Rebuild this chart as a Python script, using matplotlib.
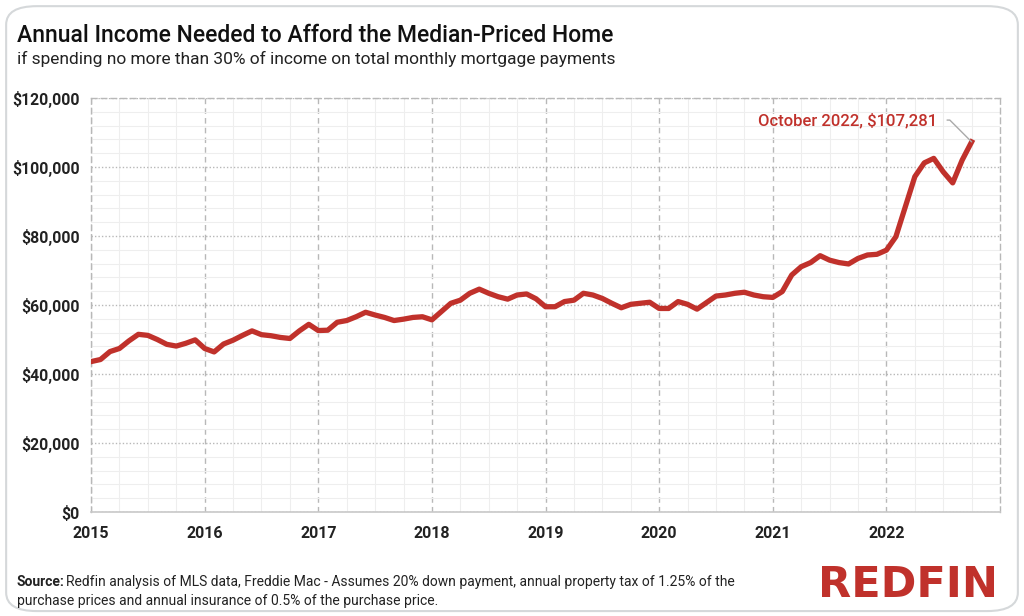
import numpy as np
import matplotlib.pyplot as plt
from matplotlib.patches import FancyBboxPatch
from matplotlib.ticker import MultipleLocator, FuncFormatter

# monthly values, Jan 2015 - Oct 2022 (thousands of dollars)
income_2015 = [43.6, 44.2, 46.5, 47.4, 49.6, 51.5, 51.2, 50.0, 48.6, 48.1, 48.9, 49.9]
income_2016 = [47.4, 46.4, 48.7, 49.8, 51.2, 52.5, 51.4, 51.1, 50.6, 50.3, 52.5, 54.4]
income_2017 = [52.6, 52.7, 55.0, 55.5, 56.6, 57.9, 57.1, 56.4, 55.5, 55.9, 56.4, 56.6]
income_2018 = [55.7, 58.1, 60.5, 61.4, 63.4, 64.6, 63.4, 62.4, 61.7, 62.9, 63.2, 61.8]
income_2019 = [59.5, 59.5, 61.0, 61.4, 63.4, 62.9, 61.9, 60.5, 59.2, 60.2, 60.5, 60.8]
income_2020 = [59.0, 59.0, 61.0, 60.2, 58.8, 60.7, 62.6, 62.9, 63.4, 63.7, 62.9, 62.4]
income_2021 = [62.2, 63.9, 68.7, 71.1, 72.3, 74.3, 73.0, 72.3, 71.9, 73.5, 74.5, 74.7]
income_2022 = [75.9, 79.8, 88.5, 97.2, 101.2, 102.5, 98.6, 95.4, 102.0, 107.281]

years = [2015, 2016, 2017, 2018, 2019, 2020, 2021, 2022]
label_text = "October 2022, $107,281"

income = np.array(income_2015 + income_2016 + income_2017 + income_2018 +
                  income_2019 + income_2020 + income_2021 + income_2022) * 1000
t = 2015 + np.arange(len(income)) / 12.0

red = '#c0312b'
plt.rcParams['font.family'] = ['Roboto', 'DejaVu Sans']

fig = plt.figure(figsize=(10.24, 6.16), dpi=100)
fig.patches.append(FancyBboxPatch((0.006, 0.008), 0.988, 0.982,
                                  boxstyle='round,pad=0,rounding_size=0.03',
                                  transform=fig.transFigure, fc='white',
                                  ec='#d5d8da', lw=1.5, zorder=-1))

ax = fig.add_axes([0.0889, 0.1688, 0.8877, 0.6721])
ax.plot(t, income, color=red, lw=3.8, solid_joinstyle='round', zorder=3)

ax.set_xlim(2015, 2023)
ax.set_ylim(0, 120000)
ax.xaxis.set_minor_locator(MultipleLocator(0.25))
ax.yaxis.set_major_locator(MultipleLocator(20000))
ax.yaxis.set_minor_locator(MultipleLocator(4000))
ax.set_xticks(years)
ax.set_xticklabels([str(y) for y in years])
ax.yaxis.set_major_formatter(FuncFormatter(lambda v, p: '${:,.0f}'.format(v)))

ax.grid(which='minor', color='#eeeeee', lw=0.8, ls='-')
ax.grid(which='major', axis='x', color='#b8b8b8', lw=1.0, ls=(0, (4, 3)))
ax.grid(which='major', axis='y', color='#b8b8b8', lw=1.0, ls=(0, (1, 1.5)))
ax.set_axisbelow(True)
for side in ['left', 'right', 'top']:
    ax.spines[side].set_color('#b8b8b8')
    ax.spines[side].set_linestyle((0, (4, 3)))
    ax.spines[side].set_linewidth(1.0)
ax.spines['bottom'].set_color('#c8c8c8')
ax.spines['bottom'].set_linewidth(1.2)
ax.tick_params(which='both', length=0)
ax.tick_params(axis='y', pad=8, labelsize=11.3, labelcolor='#222222')
ax.tick_params(axis='x', pad=10, labelsize=11.5, labelcolor='#222222')
for lab in ax.get_xticklabels() + ax.get_yticklabels():
    lab.set_fontweight('bold')

ax.annotate(label_text, xy=(t[-1], income[-1]), xytext=(2021.66, 113600),
            color=red, fontsize=12, fontweight='medium', ha='center', va='center',
            arrowprops=dict(arrowstyle='-', color='#aaaaaa', lw=1.0,
                            shrinkA=5, shrinkB=0,
                            connectionstyle='angle,angleA=0,angleB=135,rad=0',
                            relpos=(1.0, 0.5)))

fig.text(0.0166, 0.942, 'Annual Income Needed to Afford the Median-Priced Home',
         fontsize=16.5, fontweight='medium', color='#111111', va='center')
fig.text(0.0166, 0.905, 'if spending no more than 30% of income on total monthly mortgage payments',
         fontsize=12.5, color='#222222', va='center')
fig.text(0.0166, 0.055, 'Source:', fontsize=10, fontweight='bold', color='#222222', va='center')
fig.text(0.0645, 0.055, 'Redfin analysis of MLS data, Freddie Mac - Assumes 20% down payment, annual property tax of 1.25% of the',
         fontsize=10, color='#222222', va='center')
fig.text(0.0166, 0.024, 'purchase prices and annual insurance of 0.5% of the purchase price.',
         fontsize=10, color='#222222', va='center')
fig.text(0.975, 0.05, 'REDFIN', fontsize=31, fontweight='bold', color=red,
         ha='right', va='center', family=['DejaVu Sans'])

fig.savefig('out.png', dpi=100)
